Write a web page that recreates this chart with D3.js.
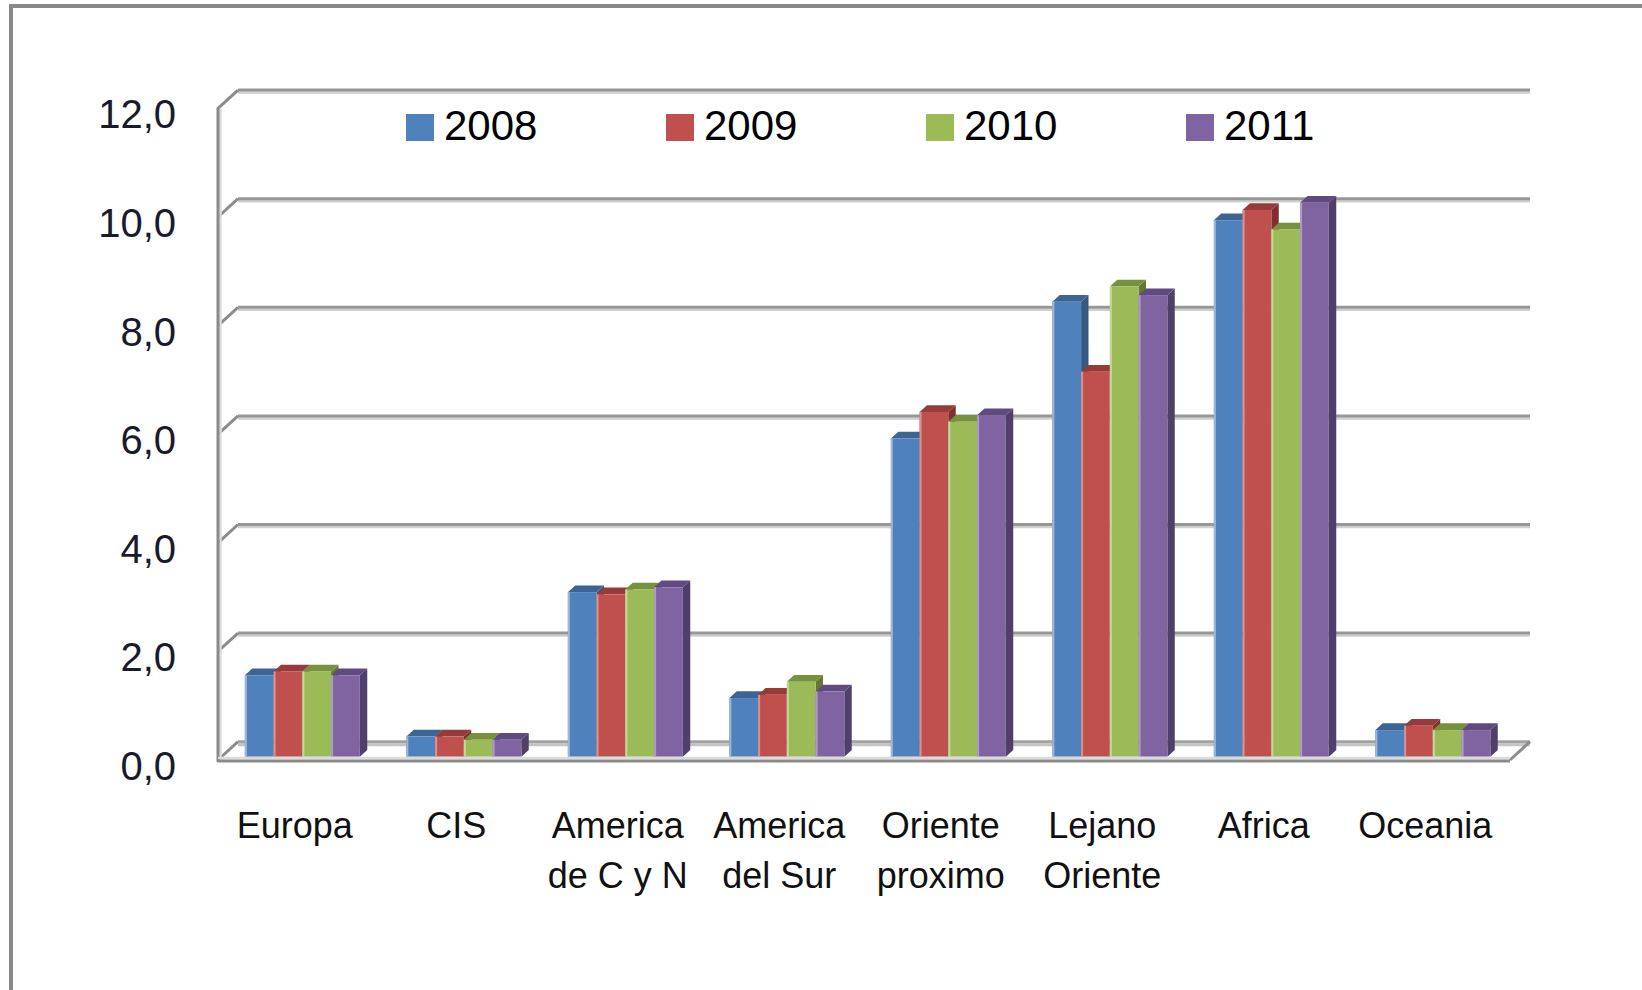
<!DOCTYPE html>
<html>
<head>
<meta charset="utf-8">
<script src="https://cdn.jsdelivr.net/npm/d3@7"></script>
<style>
  html, body { margin: 0; padding: 0; background: #fff; }
  svg { display: block; font-family: "Liberation Sans", Arial, sans-serif; }
</style>
</head>
<body>
<div id="chart"></div>
<script>
// data
const categories = [
  ["Europa"], ["CIS"], ["America", "de C y N"], ["America", "del Sur"],
  ["Oriente", "proximo"], ["Lejano", "Oriente"], ["Africa"], ["Oceania"]
];
const years = ["2008", "2009", "2010", "2011"];
const values2008 = [1.50, 0.37, 3.03, 1.08, 5.86, 8.38, 9.88, 0.49];
const values2009 = [1.57, 0.37, 2.99, 1.14, 6.35, 7.09, 10.07, 0.57];
const values2010 = [1.57, 0.31, 3.08, 1.38, 6.17, 8.66, 9.71, 0.49];
const values2011 = [1.50, 0.31, 3.12, 1.20, 6.29, 8.50, 10.20, 0.49];
const yTicks = [0, 2, 4, 6, 8, 10, 12];

const series = [values2008, values2009, values2010, values2011];
const colors = ["#4F81BD", "#C0504D", "#9BBB59", "#8064A2"];
const topColors = ["#3C6594", "#963B39", "#76923C", "#5F4B80"];
const sideColors = ["#36597F", "#7F302E", "#64792F", "#4F3F6A"];
const edgeColors = ["#9DB7D9", "#D8928F", "#C4D79E", "#AE9CC6"];

const width = 1642, height = 990;
// front plane of the box, plus depth offset of the back wall
const frontLeft = 218, frontRight = 1510;
const DX = 20, DY = -18.3;
const barPlane = 0.18, barDepth = 0.37;

const svg = d3.select("#chart").append("svg")
  .attr("width", width).attr("height", height);

// outer frame (only top and left edges show)
svg.append("line").attr("x1", 9).attr("x2", width).attr("y1", 6).attr("y2", 6)
  .attr("stroke", "#898989").attr("stroke-width", 4);
svg.append("line").attr("x1", 11).attr("x2", 11).attr("y1", 4).attr("y2", height)
  .attr("stroke", "#898989").attr("stroke-width", 4);

const x = d3.scaleBand()
  .domain(d3.range(categories.length))
  .range([frontLeft, frontRight])
  .padding(0);

const clusterW = 115;
const xs = d3.scaleBand()
  .domain(years)
  .range([(x.bandwidth() - clusterW) / 2, (x.bandwidth() + clusterW) / 2]);

const y = d3.scaleLinear().domain([0, 12]).range([760, 108.4]);

// gridlines on the back wall, with the side-wall diagonals
const grid = svg.append("g");
yTicks.forEach(t => {
  const yf = y(t), yb = y(t) + DY;
  if (t > 0) {
    grid.append("line")
      .attr("x1", frontLeft + DX).attr("x2", frontRight + DX)
      .attr("y1", yb + 2.5).attr("y2", yb + 2.5)
      .attr("stroke", "#cfcfcf").attr("stroke-width", 2.5);
    grid.append("line")
      .attr("x1", frontLeft + DX).attr("x2", frontRight + DX)
      .attr("y1", yb).attr("y2", yb)
      .attr("stroke", "#979797").attr("stroke-width", 3);
  }
  grid.append("line")
    .attr("x1", frontLeft).attr("y1", yf)
    .attr("x2", frontLeft + DX).attr("y2", yb)
    .attr("stroke", "#8c8c8c").attr("stroke-width", 3);
});

// floor
const y0 = y(0);
svg.append("line")
  .attr("x1", frontLeft + DX).attr("x2", frontRight + DX)
  .attr("y1", y0 + DY + 3).attr("y2", y0 + DY + 3)
  .attr("stroke", "#c4c4c4").attr("stroke-width", 3);
svg.append("line")
  .attr("x1", frontLeft + DX).attr("x2", frontRight + DX)
  .attr("y1", y0 + DY).attr("y2", y0 + DY)
  .attr("stroke", "#a3a3a3").attr("stroke-width", 3);
svg.append("line")
  .attr("x1", frontRight).attr("y1", y0)
  .attr("x2", frontRight + DX).attr("y2", y0 + DY)
  .attr("stroke", "#8c8c8c").attr("stroke-width", 3);

// front value axis
svg.append("line")
  .attr("x1", frontLeft + 2.5).attr("x2", frontLeft + 2.5)
  .attr("y1", y(12)).attr("y2", y0)
  .attr("stroke", "#dcdcdc").attr("stroke-width", 2.5);
svg.append("line")
  .attr("x1", frontLeft).attr("x2", frontLeft)
  .attr("y1", y(12) - 1).attr("y2", y0 + 2)
  .attr("stroke", "#8a8a8a").attr("stroke-width", 3);

// bars
const bars = svg.append("g");
categories.forEach((c, i) => {
  years.forEach((yr, s) => {
    const v = series[s][i];
    const bx = x(i) + xs(yr) + DX * barPlane;
    const bw = xs.bandwidth();
    const base = y(0) + DY * barPlane;
    const top = y(v) + DY * barPlane;
    const ddx = DX * barDepth, ddy = DY * barDepth;
    // right side
    bars.append("path")
      .attr("d", `M${bx + bw},${top} L${bx + bw + ddx},${top + ddy} L${bx + bw + ddx},${base + ddy} L${bx + bw},${base} Z`)
      .attr("fill", sideColors[s]);
    // top
    bars.append("path")
      .attr("d", `M${bx},${top} L${bx + ddx},${top + ddy} L${bx + bw + ddx},${top + ddy} L${bx + bw},${top} Z`)
      .attr("fill", topColors[s]);
    // front
    bars.append("rect")
      .attr("x", bx).attr("y", top)
      .attr("width", bw).attr("height", base - top)
      .attr("fill", colors[s]);
    bars.append("rect")
      .attr("x", bx).attr("y", top)
      .attr("width", 2).attr("height", base - top)
      .attr("fill", edgeColors[s]);
  });
});

// front floor edge, drawn over bar bases
svg.append("line")
  .attr("x1", frontLeft).attr("x2", frontRight)
  .attr("y1", y0 - 2).attr("y2", y0 - 2)
  .attr("stroke", "#dcdcdc").attr("stroke-width", 2.5);
svg.append("line")
  .attr("x1", frontLeft - 1).attr("x2", frontRight)
  .attr("y1", y0 + 1).attr("y2", y0 + 1)
  .attr("stroke", "#8a8a8a").attr("stroke-width", 3);

// y labels
svg.append("g").selectAll("text")
  .data(yTicks)
  .join("text")
  .attr("x", 176)
  .attr("y", d => y(d) + 20)
  .attr("text-anchor", "end")
  .attr("font-size", 40)
  .attr("fill", "#1a1a2a")
  .text(d => d.toFixed(1).replace(".", ","));

// category labels
const catG = svg.append("g");
categories.forEach((lines, i) => {
  const t = catG.append("text")
    .attr("x", x(i) + x.bandwidth() / 2 - 4)
    .attr("y", 838)
    .attr("text-anchor", "middle")
    .attr("font-size", 36)
    .attr("fill", "#111");
  lines.forEach((ln, k) => {
    t.append("tspan")
      .attr("x", x(i) + x.bandwidth() / 2 - 4)
      .attr("dy", k === 0 ? 0 : 50)
      .text(ln);
  });
});

// legend
const legend = svg.append("g");
years.forEach((yr, s) => {
  const lx = 406 + s * 260;
  legend.append("rect")
    .attr("x", lx).attr("y", 114)
    .attr("width", 28).attr("height", 27)
    .attr("fill", colors[s]);
  legend.append("text")
    .attr("x", lx + 38).attr("y", 140)
    .attr("font-size", 42)
    .attr("fill", "#000")
    .text(yr);
});
</script>
</body>
</html>
